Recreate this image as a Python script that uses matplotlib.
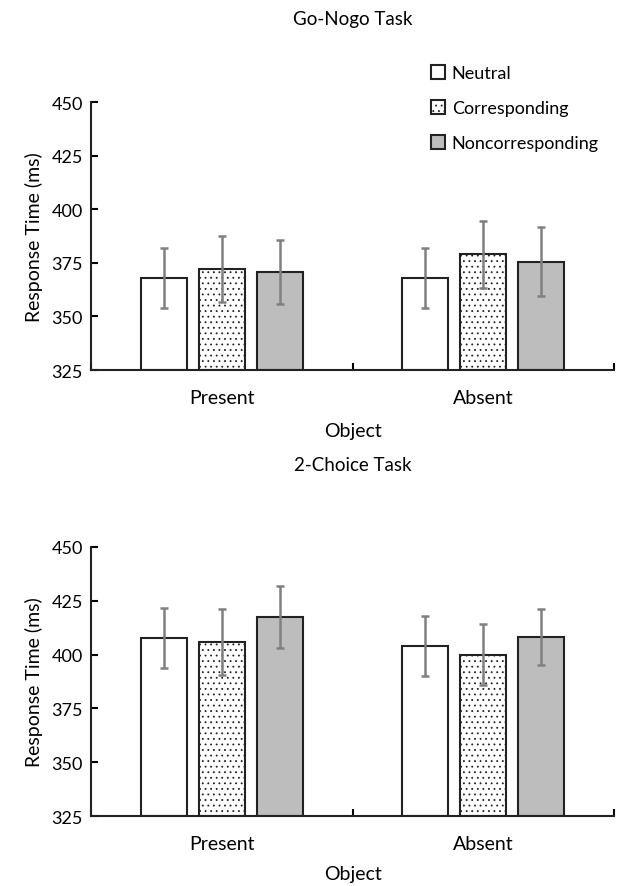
import numpy as np
import matplotlib.pyplot as plt

plt.rcParams['font.family'] = ['Lato', 'DejaVu Sans']

objects = ["Present", "Absent"]
conditions = ["Neutral", "Corresponding", "Noncorresponding"]

# Go-Nogo task, mean RT and error (ms)
gonogo_mean = {"Neutral": [368, 368],
               "Corresponding": [372, 379],
               "Noncorresponding": [370.7, 375.5]}
gonogo_err = {"Neutral": [14, 14],
              "Corresponding": [15.3, 15.7],
              "Noncorresponding": [15, 16]}

# 2-Choice task
choice_mean = {"Neutral": [407.7, 404],
               "Corresponding": [406, 400],
               "Noncorresponding": [417.6, 408]}
choice_err = {"Neutral": [14, 14],
              "Corresponding": [15.4, 14],
              "Noncorresponding": [14.5, 13]}

yticks = [325, 350, 375, 400, 425, 450]

fills = {"Neutral": "white", "Corresponding": "white", "Noncorresponding": "#bdbdbd"}
hatches = {"Neutral": None, "Corresponding": "...", "Noncorresponding": None}

plt.rcParams['hatch.color'] = '#444444'
plt.rcParams['hatch.linewidth'] = 0.6


def draw_panel(ax, means, errs, legend=False):
  x = np.arange(len(objects))
  width = 0.176
  step = 0.222
  for i, c in enumerate(conditions):
    pos = x + (i - 1) * step
    ax.bar(pos, [m - 325 for m in means[c]], width, bottom=325,
           color=fills[c], edgecolor="#222222", linewidth=1.5,
           hatch=hatches[c], label=c, zorder=2)
    ax.errorbar(pos, means[c], yerr=errs[c], fmt="none", ecolor="#808080",
                elinewidth=1.8, capsize=3, capthick=1.8, zorder=3)
  ax.set_xlim(-0.5, 1.5)
  ax.set_ylim(325, 450)
  ax.set_yticks(yticks)
  ax.set_xticks(x)
  ax.set_xticklabels(objects)
  ax.set_xticks([-0.5, 0.5, 1.5], minor=True)
  ax.tick_params(axis="x", which="major", length=0, pad=14, labelsize=14)
  ax.tick_params(axis="x", which="minor", direction="in", length=5, width=1.5)
  ax.tick_params(axis="y", direction="in", length=5, width=1.5, labelsize=13, pad=6)
  for s in ["top", "right"]:
    ax.spines[s].set_visible(False)
  for s in ["left", "bottom"]:
    ax.spines[s].set_linewidth(1.5)
    ax.spines[s].set_color("#222222")
  ax.set_ylabel("Response Time (ms)", fontsize=14, labelpad=6)
  if legend:
    ax.legend(loc="upper left", bbox_to_anchor=(0.636, 1.166), frameon=False,
              fontsize=13, handlelength=0.8, handleheight=0.8,
              handletextpad=0.35, labelspacing=1.05, borderaxespad=0)


fig = plt.figure(figsize=(6.17, 8.87), dpi=100)
ax1 = fig.add_axes([0.1475, 0.5817, 0.8477, 0.3021])
ax2 = fig.add_axes([0.1475, 0.0789, 0.8477, 0.3033])
draw_panel(ax1, gonogo_mean, gonogo_err, legend=True)
draw_panel(ax2, choice_mean, choice_err)

xc = 0.1475 + 0.8477 / 2
fig.text(xc, 1 - 20 / 887, "Go-Nogo Task", ha="center", va="center", fontsize=13.5)
fig.text(xc, 1 - 432 / 887, "Object", ha="center", va="center", fontsize=14)
fig.text(xc, 1 - 466 / 887, "2-Choice Task", ha="center", va="center", fontsize=13.5)
fig.text(xc, 1 - 875 / 887, "Object", ha="center", va="center", fontsize=14)

fig.savefig("out.png", dpi=100)
